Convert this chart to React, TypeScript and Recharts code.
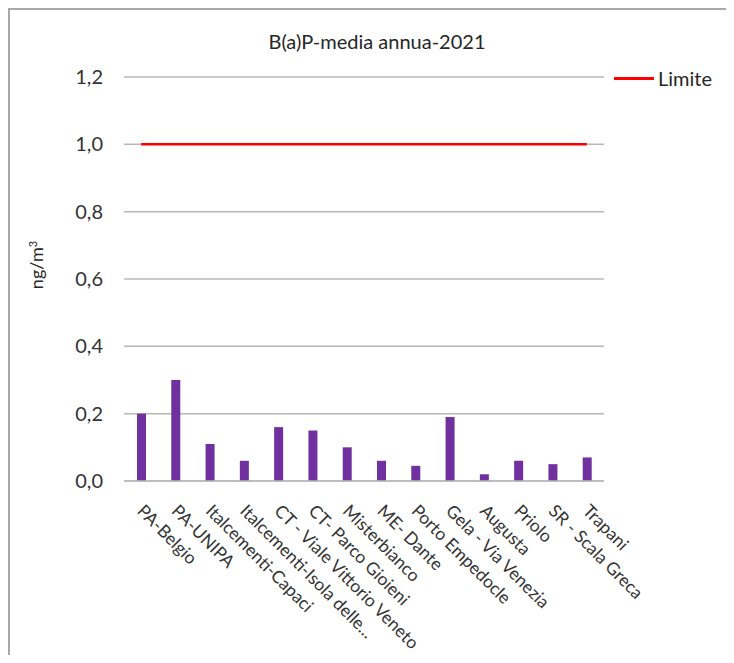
import React from "react";
import { ComposedChart, Bar, Line, XAxis, YAxis, CartesianGrid } from "recharts";

const categories = [
  "PA-Belgio",
  "PA-UNIPA",
  "Italcementi-Capaci",
  "Italcementi-Isola delle...",
  "CT - Viale Vittorio Veneto",
  "CT- Parco Gioieni",
  "Misterbianco",
  "ME- Dante",
  "Porto Empedocle",
  "Gela - Via Venezia",
  "Augusta",
  "Priolo",
  "SR - Scala Greca",
  "Trapani",
];
const bapValues = [0.2, 0.3, 0.11, 0.06, 0.16, 0.15, 0.1, 0.06, 0.045, 0.19, 0.02, 0.06, 0.05, 0.07];
const limiteValues = [1.0, 1.0, 1.0, 1.0, 1.0, 1.0, 1.0, 1.0, 1.0, 1.0, 1.0, 1.0, 1.0, 1.0];
const yTicks = [0, 0.2, 0.4, 0.6, 0.8, 1.0, 1.2];

const data = categories.map((c, i) => ({ name: c, bap: bapValues[i], limite: limiteValues[i] }));

const FONT = "Lato, 'Open Sans', sans-serif";
const TEXT = "#333333";

const CatTick = (props: any) => {
  const { x, y, payload } = props;
  const bx = x - 5;
  const by = y + 23;
  return (
    <text
      x={bx}
      y={by}
      transform={`rotate(45, ${bx}, ${by})`}
      textAnchor="start"
      fontFamily={FONT}
      fontSize={17.5}
      fill={TEXT}
    >
      {payload.value}
    </text>
  );
};

export default function App() {
  return (
    <div
      style={{
        position: "relative",
        width: 726,
        height: 655,
        marginBottom: -8,
        marginRight: -8,
        boxSizing: "border-box",
        borderTop: "2px solid #a8a8a8",
        borderLeft: "2px solid #a8a8a8",
        background: "#fff",
        fontFamily: FONT,
        overflow: "hidden",
      }}
    >
      <div
        style={{
          position: "absolute",
          left: 167,
          top: 21,
          width: 400,
          lineHeight: "20px",
          textAlign: "center",
          fontSize: 20,
          color: "#262626",
        }}
      >
        B(a)P-media annua-2021
      </div>
      <div
        style={{
          position: "absolute",
          left: -17,
          top: 243,
          width: 80,
          height: 24,
          lineHeight: "24px",
          textAlign: "center",
          fontSize: 18,
          color: "#262626",
          transform: "rotate(-90deg)",
        }}
      >
        ng/m<sup style={{ fontSize: 11, verticalAlign: "6px" }}>3</sup>
      </div>
      <div
        style={{
          position: "absolute",
          left: 604,
          top: 67,
          width: 40,
          height: 2.5,
          background: "#ff0000",
        }}
      />
      <div
        style={{
          position: "absolute",
          left: 648,
          top: 58,
          lineHeight: "20px",
          fontSize: 20,
          color: "#262626",
        }}
      >
        Limite
      </div>
      <ComposedChart
        width={724}
        height={653}
        data={data}
        margin={{ top: 67, right: 130, bottom: 22, left: 24 }}
        barCategoryGap={0}
      >
        <CartesianGrid vertical={false} stroke="#b8b8b8" strokeWidth={1.5} />
        <XAxis
          dataKey="name"
          interval={0}
          height={160}
          tickLine={false}
          axisLine={{ stroke: "#b8b8b8", strokeWidth: 1.5 }}
          tick={<CatTick />}
        />
        <YAxis
          domain={[0, 1.2]}
          ticks={yTicks}
          width={90}
          axisLine={false}
          tickLine={false}
          tickSize={0}
          tickMargin={21}
          tickFormatter={(v: number) => v.toFixed(1).replace(".", ",")}
          tick={{ fontFamily: FONT, fontSize: 20, fill: TEXT }}
        />
        <Bar dataKey="bap" fill="#7030a0" barSize={9} isAnimationActive={false} />
        <Line
          dataKey="limite"
          stroke="#ff0000"
          strokeWidth={2.5}
          dot={false}
          isAnimationActive={false}
        />
      </ComposedChart>
    </div>
  );
}
